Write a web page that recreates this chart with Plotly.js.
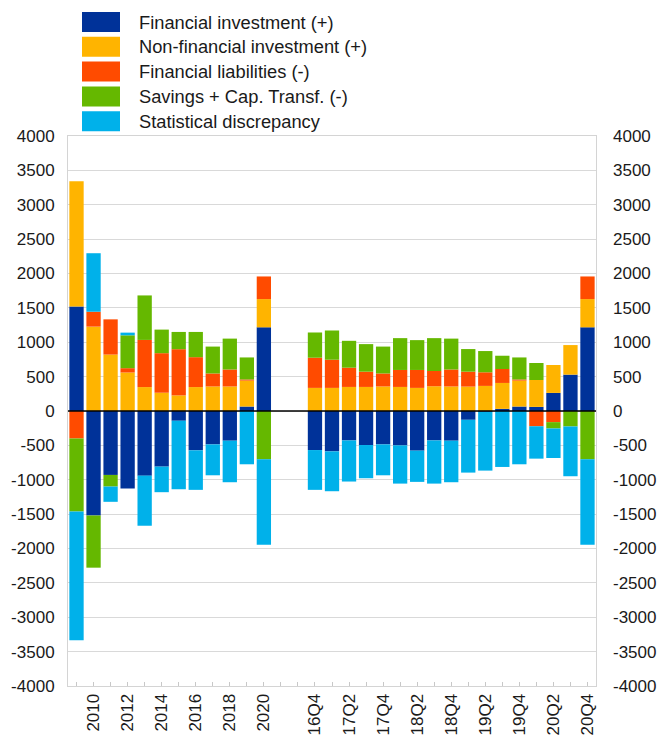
<!DOCTYPE html>
<html>
<head>
<meta charset="utf-8">
<script src="https://cdn.plot.ly/plotly-3.0.1.min.js"></script>
<style>html,body{margin:0;padding:0;background:#fff;}#chart{width:658px;height:738px;}</style>
</head>
<body>
<div id="chart"></div>
<script>
// ---- data ----
var annualLabels = ['2009','2010','2011','2012','2013','2014','2015','2016','2017','2018','2019','2020'];
var quarterLabels = ['16Q4','17Q1','17Q2','17Q3','17Q4','18Q1','18Q2','18Q3','18Q4','19Q1','19Q2','19Q3','19Q4','20Q1','20Q2','20Q3','20Q4'];
var shownTicks = ['2010','2012','2014','2016','2018','2020','16Q4','17Q2','17Q4','18Q2','18Q4','19Q2','19Q4','20Q2','20Q4'];
var yTickValues = [-4000,-3500,-3000,-2500,-2000,-1500,-1000,-500,0,500,1000,1500,2000,2500,3000,3500,4000];

var seriesNames = ['Financial investment (+)','Non-financial investment (+)','Financial liabilities (-)','Savings + Cap. Transf. (-)','Statistical discrepancy'];
var seriesColors = ['#003299','#FFB400','#FF4B00','#65B800','#00B1EA'];

var finInvA   = [1520,-1520,-930,-1128,-940,-809,-142,-572,-486,-432,65,1217];
var nonFinA   = [1820,1227,821,560,348,266,227,348,357,357,377,411];
var finLiabA  = [-400,217,512,63,686,575,672,435,189,247,17,329];
var savingsA  = [-1063,-759,-169,478,647,343,251,367,391,449,320,-703];
var statDiscA = [-1870,851,-222,39,-729,-372,-996,-575,-449,-604,-775,-1241];

var finInvQ   = [-568,-587,-428,-495,-486,-500,-577,-428,-432,-128,-12,31,65,60,263,529,1217];
var nonFinQ   = [336,336,350,350,357,350,336,360,357,355,365,377,377,391,406,430,411];
var finLiabQ  = [439,410,280,222,189,247,261,222,247,217,198,203,17,-222,-162,0,329];
var savingsQ  = [367,425,391,401,391,463,434,478,449,329,309,193,320,247,-92,-225,-703];
var statDiscQ = [-579,-580,-598,-483,-449,-556,-454,-628,-604,-768,-855,-814,-775,-471,-430,-724,-1241];

var gapSlots = 2;

// ---- build ----
var allLabels = annualLabels.concat(new Array(gapSlots).fill(''), quarterLabels);
var xs = allLabels.map(function(_, i){ return i; });
function place(a, q){ return a.concat(new Array(gapSlots).fill(null), q); }
var series = [
  place(finInvA, finInvQ),
  place(nonFinA, nonFinQ),
  place(finLiabA, finLiabQ),
  place(savingsA, savingsQ),
  place(statDiscA, statDiscQ)
];

var traces = series.map(function(vals, k){
  return {
    type: 'bar', x: xs, y: vals, name: seriesNames[k],
    marker: {color: seriesColors[k], line: {width: 0}},
    showlegend: false, hoverinfo: 'y'
  };
});
// invisible companion so the right-hand value axis is drawn
traces.push({type:'scatter', mode:'markers', x: xs, y: series[0], yaxis:'y2',
  marker:{opacity:0}, showlegend:false, hoverinfo:'skip'});

var tickText = allLabels.map(function(l){ return shownTicks.indexOf(l) >= 0 ? l : ''; });
var yTickText = yTickValues.map(function(v){ return String(v); });

var W = 658, H = 738;
var M = {l: 68, r: 62, t: 136, b: 52};
var pw = W - M.l - M.r, ph = H - M.t - M.b;
function px(x){ return (x - M.l) / pw; }
function py(y){ return (H - M.b - y) / ph; }

var shapes = [], annotations = [];
seriesNames.forEach(function(n, k){
  var cy = 22 + k * 24.8;
  shapes.push({type:'rect', xref:'paper', yref:'paper',
    x0: px(82), x1: px(120), y0: py(cy + 10), y1: py(cy - 10),
    fillcolor: seriesColors[k], line: {width: 0}});
  annotations.push({xref:'paper', yref:'paper', x: px(137), y: py(cy),
    xanchor:'left', yanchor:'middle', showarrow:false, text: n,
    font: {family:'Liberation Sans, Arial, sans-serif', size: 18.3, color:'#1a1a1a'}});
});

var tickFont = {family:'Liberation Sans, Arial, sans-serif', size: 17, color:'#1a1a1a'};
var yBase = {
  range: [-4000, 4000], tickmode: 'array', tickvals: yTickValues, ticktext: yTickText,
  tickfont: tickFont, showgrid: true, gridcolor: '#d9d9d9', gridwidth: 1,
  zeroline: false, ticks: '', ticklabelstandoff: 9, fixedrange: true
};

var layout = {
  width: W, height: H, margin: M,
  paper_bgcolor: '#fff', plot_bgcolor: '#fff',
  barmode: 'relative', bargap: 0.16,
  showlegend: false,
  xaxis: {
    range: [-0.5, xs.length - 0.5], tickmode: 'array', tickvals: xs, ticktext: tickText,
    tickangle: -90, tickfont: tickFont, ticks: 'inside', ticklen: 4, tickcolor: '#c8c8c8',
    showline: true, linecolor: '#d4d4d4', linewidth: 1, mirror: true,
    showgrid: false, zeroline: false
  },
  yaxis: Object.assign({}, yBase, {showline: true, linecolor: '#d4d4d4', linewidth: 1, mirror: true}),
  yaxis2: Object.assign({}, yBase, {overlaying: 'y', side: 'right', showgrid: false, ticklabelstandoff: 16}),
  shapes: shapes.concat([{type:'line', xref:'paper', yref:'y', x0:0, x1:1, y0:0, y1:0,
    line:{color:'#000', width:1.5}}]),
  annotations: annotations
};

Plotly.newPlot('chart', traces, layout, {displayModeBar: false, staticPlot: true});
</script>
</body>
</html>
